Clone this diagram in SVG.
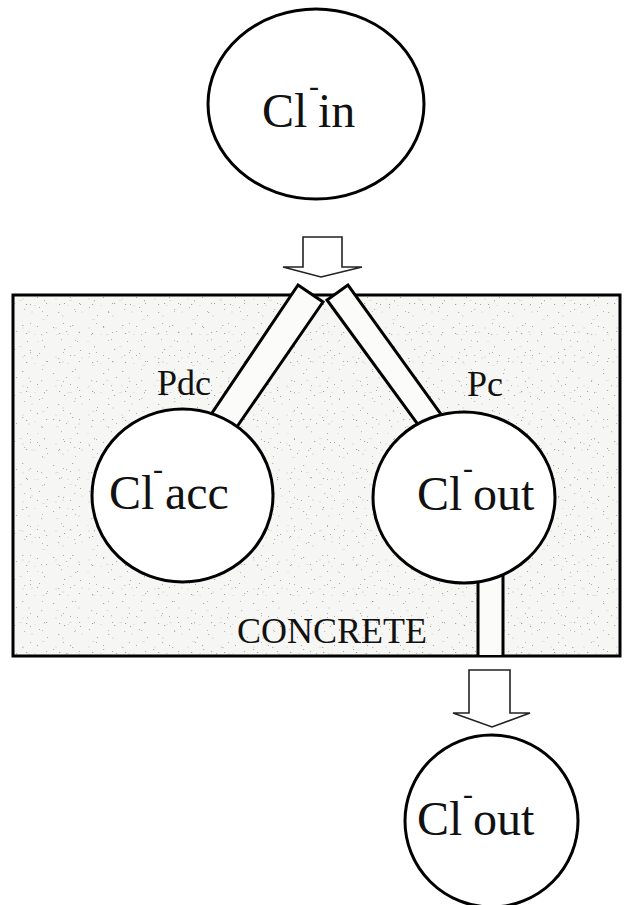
<svg xmlns="http://www.w3.org/2000/svg" width="624" height="905" viewBox="0 0 624 905">
<style>
  .lbl { font-family: "Liberation Serif", "Times New Roman", serif; fill: #111; }
  .big { font-size: 48px; }
  .sup { font-size: 30px; }
  .mid { font-size: 36px; }
  .node { fill: #ffffff; stroke: #000; stroke-width: 3; }
  .chan { fill: #fbfbfa; stroke: #000; stroke-width: 3; stroke-linejoin: miter; }
  .arrow { fill: #ffffff; stroke: #222; stroke-width: 1.6; stroke-linejoin: miter; }
</style>
<defs>
  <pattern id="grainA" width="50" height="46" patternUnits="userSpaceOnUse">
    <rect width="50" height="46" fill="#f6f6f4"/>
    <g fill="#6f6f6a">
      <rect x="3" y="5" width="1.2" height="1" opacity="0.55"/>
      <rect x="11" y="17" width="1" height="1.3" opacity="0.4"/>
      <rect x="22" y="3" width="1.4" height="1" opacity="0.5"/>
      <rect x="30" y="28" width="1" height="1" opacity="0.6"/>
      <rect x="41" y="12" width="1.2" height="1.2" opacity="0.4"/>
      <rect x="47" y="39" width="1" height="1" opacity="0.55"/>
      <rect x="8" y="36" width="1.3" height="1" opacity="0.5"/>
      <rect x="27" y="19" width="1" height="1" opacity="0.55"/>
      <rect x="44" y="24" width="1" height="1.4" opacity="0.5"/>
      <rect x="14" y="27" width="1.2" height="1" opacity="0.6"/>
      <rect x="24" y="33" width="1.3" height="1" opacity="0.4"/>
      <rect x="39" y="31" width="1" height="1" opacity="0.55"/>
      <rect x="16" y="9" width="1.1" height="1" opacity="0.5"/>
    </g>
    <g fill="#d6d6d1">
      <rect x="6" y="12" width="3" height="1" opacity="0.6"/>
      <rect x="28" y="9" width="2" height="2" opacity="0.5"/>
      <rect x="19" y="24" width="3" height="1" opacity="0.6"/>
      <rect x="37" y="19" width="2" height="1" opacity="0.5"/>
      <rect x="12" y="39" width="2" height="2" opacity="0.5"/>
      <rect x="42" y="43" width="3" height="1" opacity="0.6"/>
      <rect x="31" y="35" width="2" height="2" opacity="0.4"/>
    </g>
  </pattern>
  <pattern id="grainB" width="33" height="29" patternUnits="userSpaceOnUse">
    <g fill="#5e5e5a">
      <rect x="4" y="7" width="1" height="1" opacity="0.5"/>
      <rect x="26" y="14" width="1.2" height="1" opacity="0.55"/>
      <rect x="9" y="21" width="1" height="1" opacity="0.4"/>
      <rect x="30" y="4" width="1" height="1" opacity="0.45"/>
      <rect x="13" y="13" width="1.1" height="1" opacity="0.5"/>
    </g>
    <g fill="#d8d8d3">
      <rect x="1" y="15" width="2" height="1" opacity="0.6"/>
      <rect x="22" y="8" width="2" height="2" opacity="0.4"/>
    </g>
  </pattern>
</defs>

<rect width="624" height="905" fill="#ffffff"/>

<g id="concrete">
  <rect x="13" y="295" width="607" height="361" fill="url(#grainA)"/>
  <rect x="13" y="295" width="607" height="361" fill="url(#grainB)"/>
  <rect x="13" y="295" width="607" height="361" fill="none" stroke="#000" stroke-width="3"/>
  <text class="lbl mid" x="237" y="643">CONCRETE</text>
</g>

<g id="connectors">
  <polygon id="arrow-in" class="arrow" points="303,237 342,237 342,267 362,267 321,277 283,267 303,267"/>
  <polygon id="channel-pdc" class="chan" points="298,285 323,302 227.8,440 200.6,430"/>
  <polygon id="channel-pc" class="chan" points="348,285 327,300 429.2,440 452.4,430"/>
  <g id="channel-out">
    <rect x="478" y="560" width="25" height="95" fill="#fbfbfa"/>
    <line x1="478" y1="560" x2="478" y2="655" stroke="#000" stroke-width="3"/>
    <line x1="503" y1="560" x2="503" y2="655" stroke="#000" stroke-width="3"/>
  </g>
  <polygon id="arrow-out" class="arrow" points="469,670 510,670 510,713 530,713 492,727 453,713 469,713"/>
  <text class="lbl mid" x="157" y="395">Pdc</text>
  <text class="lbl mid" x="467" y="396">Pc</text>
</g>

<g id="node-cl-in">
  <ellipse class="node" cx="316" cy="104" rx="108" ry="95"/>
  <text class="lbl big" x="262" y="127">Cl<tspan class="sup" x="309" y="96">-</tspan><tspan x="318" y="127">in</tspan></text>
</g>

<g id="node-cl-acc">
  <ellipse class="node" cx="182.5" cy="495.5" rx="90.5" ry="86.5"/>
  <text class="lbl big" x="109" y="509">Cl<tspan class="sup" x="153" y="479">-</tspan><tspan x="165" y="509">acc</tspan></text>
</g>

<g id="node-cl-out-inner">
  <ellipse class="node" cx="464" cy="497.5" rx="91" ry="85.5"/>
  <text class="lbl big" x="417" y="510">Cl<tspan class="sup" x="463" y="478">-</tspan><tspan x="473" y="510">out</tspan></text>
</g>

<g id="node-cl-out">
  <ellipse class="node" cx="491.5" cy="821" rx="86.5" ry="86"/>
  <text class="lbl big" x="417" y="835">Cl<tspan class="sup" x="463" y="804">-</tspan><tspan x="473" y="835">out</tspan></text>
</g>
</svg>
